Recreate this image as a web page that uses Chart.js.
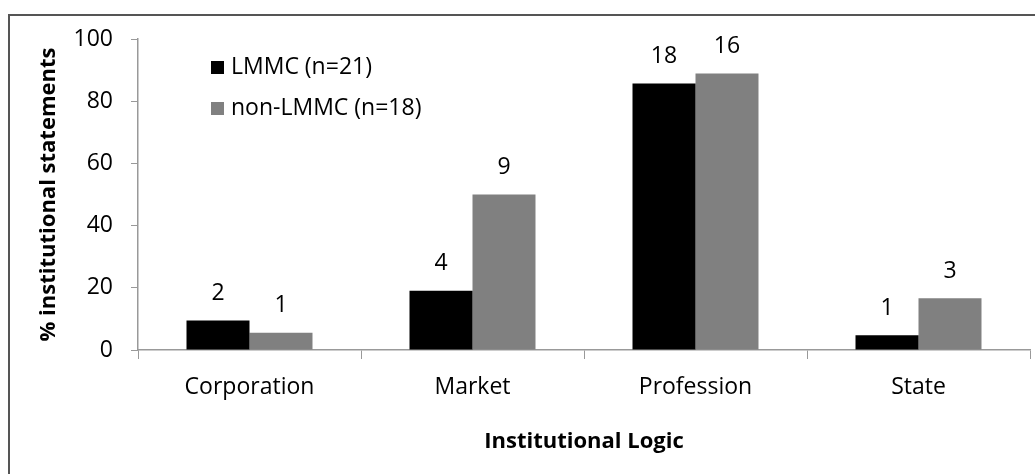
<!DOCTYPE html>
<html>
<head>
<meta charset="utf-8">
<script src="https://cdn.jsdelivr.net/npm/chart.js@4.4.0/dist/chart.umd.min.js"></script>
<style>
  html, body { margin: 0; padding: 0; background: #fff; }
  #wrap { width: 1035px; height: 474px; position: relative; }
</style>
</head>
<body>
<div id="wrap"><canvas id="bar-chart"></canvas></div>
<script>
// data
var categories = ["Corporation", "Market", "Profession", "State"];
var lmmcPct = [9.52, 19.05, 85.71, 4.76];
var nonLmmcPct = [5.56, 50, 88.89, 16.67];
var lmmcCount = [2, 4, 18, 1];
var nonLmmcCount = [1, 9, 16, 3];
var yTicks = [0, 20, 40, 60, 80, 100];

var FONT = "'Open Sans', 'DejaVu Sans', sans-serif";

// frame round the figure (left and top edges only are visible)
var framePlugin = {
  id: "frame",
  beforeDraw: function(chart) {
    var ctx = chart.ctx;
    ctx.save();
    ctx.fillStyle = "#fff";
    ctx.fillRect(0, 0, chart.width, chart.height);
    ctx.strokeStyle = "#555";
    ctx.lineWidth = 2;
    ctx.beginPath();
    ctx.moveTo(9, chart.height);
    ctx.lineTo(9, 15);
    ctx.lineTo(chart.width, 15);
    ctx.stroke();
    ctx.restore();
  }
};

// counts above each bar
var countsPlugin = {
  id: "counts",
  afterDatasetsDraw: function(chart) {
    var ctx = chart.ctx;
    var counts = [lmmcCount, nonLmmcCount];
    ctx.save();
    ctx.font = "23px " + FONT;
    ctx.fillStyle = "#000";
    ctx.textAlign = "center";
    ctx.textBaseline = "middle";
    chart.data.datasets.forEach(function(ds, i) {
      chart.getDatasetMeta(i).data.forEach(function(bar, j) {
        ctx.fillText(counts[i][j], bar.x, bar.y - 27);
      });
    });
    ctx.restore();
  }
};

// legend inside the plot, top left
var legendPlugin = {
  id: "innerLegend",
  afterDraw: function(chart) {
    var ctx = chart.ctx;
    ctx.save();
    ctx.font = "23px " + FONT;
    ctx.textBaseline = "middle";
    chart.data.datasets.forEach(function(ds, i) {
      var y = 67 + i * 41;
      ctx.fillStyle = ds.backgroundColor;
      ctx.fillRect(211, y - 6, 13, 13);
      ctx.fillStyle = "#000";
      ctx.fillText(ds.label, 231, y);
    });
    ctx.restore();
  }
};

new Chart(document.getElementById("bar-chart"), {
  type: "bar",
  data: {
    labels: categories,
    datasets: [
      {
        label: "LMMC (n=21)",
        data: lmmcPct,
        backgroundColor: "#000000",
        categoryPercentage: 0.565,
        barPercentage: 1.0
      },
      {
        label: "non-LMMC (n=18)",
        data: nonLmmcPct,
        backgroundColor: "#808080",
        categoryPercentage: 0.565,
        barPercentage: 1.0
      }
    ]
  },
  options: {
    responsive: true,
    maintainAspectRatio: false,
    animation: false,
    layout: { padding: { top: 39, right: 5, left: 0, bottom: 0 } },
    plugins: {
      legend: { display: false },
      tooltip: { enabled: false }
    },
    scales: {
      x: {
        grid: { drawOnChartArea: false, color: "#999", tickLength: 9, offset: true },
        border: { color: "#999", width: 1.5 },
        ticks: { color: "#000", font: { family: FONT, size: 23 }, padding: 15 },
        title: {
          display: true,
          text: "Institutional Logic",
          color: "#000",
          font: { family: FONT, size: 22, weight: "bold" },
          padding: { bottom: 19 }
        },
        afterFit: function(scale) { scale.height = 124; }
      },
      y: {
        min: 0,
        max: 100,
        afterBuildTicks: function(scale) {
          scale.ticks = yTicks.map(function(v) { return { value: v }; });
        },
        grid: { drawOnChartArea: false, color: "#999", tickLength: 7 },
        border: { color: "#999", width: 1.5 },
        ticks: { color: "#000", font: { family: FONT, size: 23 }, padding: 18 },
        title: {
          display: true,
          text: "% institutional statements",
          color: "#000",
          font: { family: FONT, size: 22, weight: "bold" },
          padding: { top: 36 }
        },
        afterFit: function(scale) { scale.width = 138; }
      }
    }
  },
  plugins: [framePlugin, countsPlugin, legendPlugin]
});
</script>
</body>
</html>
